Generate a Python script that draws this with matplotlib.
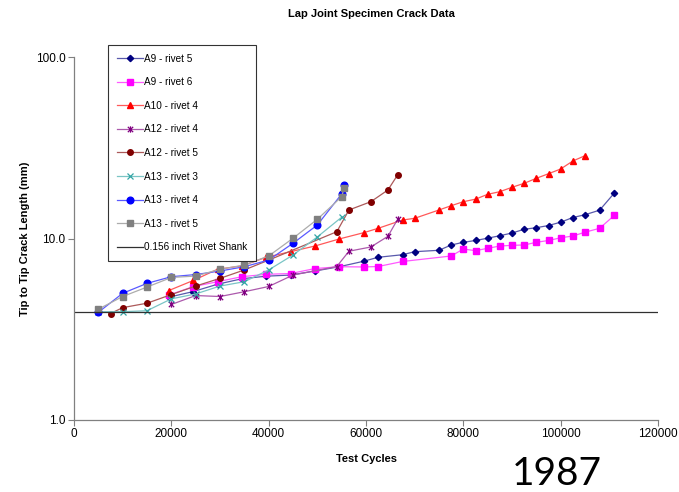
import matplotlib
matplotlib.use("Agg")
import matplotlib.pyplot as plt
from matplotlib.path import Path
from matplotlib.colors import to_rgb
from matplotlib.ticker import FixedLocator, FuncFormatter

plt.rcParams['font.family'] = ['Liberation Sans', 'DejaVu Sans']

# ---- data ----
a9r5_x = [19500, 24500, 29500, 34500, 39500, 44500, 49500, 54500, 59500, 62500, 67500, 70000,
          75000, 77500, 80000, 82500, 85000, 87500, 90000, 92500, 95000, 97500, 100000, 102500,
          105000, 108000, 111000]
a9r5_y = [4.75, 5.1, 5.6, 6.0, 6.2, 6.29, 6.62, 6.99, 7.49, 7.88, 8.14, 8.46,
          8.61, 9.21, 9.53, 9.75, 10.04, 10.36, 10.72, 11.24, 11.47, 11.79, 12.30, 13.05,
          13.52, 14.32, 17.77]

a9r6_x = [19500, 24500, 29500, 34500, 39500, 44500, 49500, 54500, 59500, 62500, 67500,
          77500, 80000, 82500, 85000, 87500, 90000, 92500, 95000, 97500, 100000, 102500,
          105000, 108000, 111000]
a9r6_y = [4.88, 5.43, 5.78, 6.16, 6.35, 6.41, 6.83, 6.99, 6.97, 7.01, 7.47,
          8.01, 8.75, 8.57, 8.83, 9.09, 9.17, 9.21, 9.53, 9.75, 10.09, 10.32,
          10.83, 11.38, 13.39]

a10r4_x = [19500, 24500, 29500, 34500, 39500, 44500, 49500, 54500, 59500, 62500, 67500, 70000,
           75000, 77500, 80000, 82500, 85000, 87500, 90000, 92500, 95000, 97500, 100000,
           102500, 105000]
a10r4_y = [5.17, 5.87, 6.77, 7.06, 7.88, 8.46, 9.09, 9.94, 10.76, 11.38, 12.64, 12.92,
           14.36, 15.16, 15.95, 16.47, 17.52, 18.11, 19.15, 20.14, 21.46, 22.75, 24.15,
           26.73, 28.59]

a12r4_x = [20000, 25000, 30000, 35000, 40000, 45000, 54000, 56500, 61000, 64500, 66500]
a12r4_y = [4.33, 4.85, 4.79, 5.09, 5.44, 6.29, 7.01, 8.51, 8.98, 10.28, 12.76]

a12r5_x = [7500, 10000, 15000, 20000, 25000, 30000, 35000, 40000, 54000, 56500, 61000, 64500, 66500]
a12r5_y = [3.86, 4.16, 4.40, 4.91, 5.47, 6.03, 6.71, 7.6, 10.9, 14.36, 15.95, 18.5, 22.4]

a13r3_x = [5000, 10000, 15000, 20000, 25000, 30000, 35000, 40000, 45000, 50000, 55000]
a13r3_y = [3.95, 3.95, 4.00, 4.65, 4.95, 5.47, 5.78, 6.71, 8.11, 10.2, 13.1]

a13r4_x = [5000, 10000, 15000, 20000, 25000, 30000, 35000, 40000, 45000, 50000, 55000, 55500]
a13r4_y = [3.92, 4.99, 5.66, 6.16, 6.33, 6.62, 6.99, 7.61, 9.41, 11.87, 17.59, 19.64]

a13r5_x = [5000, 10000, 15000, 20000, 25000, 30000, 35000, 40000, 45000, 50000, 55000, 55500]
a13r5_y = [4.08, 4.79, 5.40, 6.10, 6.21, 6.77, 7.14, 8.01, 10.03, 12.76, 16.99, 18.97]

shank_mm = 3.96  # 0.156 inch

labels = ["A9 - rivet 5", "A9 - rivet 6", "A10 - rivet 4", "A12 - rivet 4", "A12 - rivet 5",
          "A13 - rivet 3", "A13 - rivet 4", "A13 - rivet 5", "0.156 inch Rivet Shank"]
x_ticks = [0, 20000, 40000, 60000, 80000, 100000, 120000]
y_ticks = [1.0, 10.0, 100.0]

# Excel-like star marker (x with a vertical stroke)
star = Path([(-1, -1), (1, 1), (-1, 1), (1, -1), (0, -1.2), (0, 1.2)],
            [Path.MOVETO, Path.LINETO, Path.MOVETO, Path.LINETO, Path.MOVETO, Path.LINETO])


def lighten(c, f=0.35):
    r, g, b = to_rgb(c)
    return (r + (1 - r) * f, g + (1 - g) * f, b + (1 - b) * f)


fig = plt.figure(figsize=(6.79, 4.92), dpi=100)
ax = fig.add_axes([74/679, 1-420/492, 584/679, 363/492])

series = [
    (a9r5_x, a9r5_y, '#000080', 'D', 3.2, {}),
    (a9r6_x, a9r6_y, '#FF00FF', 's', 4.0, {}),
    (a10r4_x, a10r4_y, '#FF0000', '^', 4.8, {}),
    (a12r4_x, a12r4_y, '#800080', star, 4.6, {'markeredgewidth': 0.9}),
    (a12r5_x, a12r5_y, '#800000', 'o', 4.0, {}),
    (a13r3_x, a13r3_y, '#33A5A5', 'x', 5.0, {'markeredgewidth': 0.9}),
    (a13r4_x, a13r4_y, '#0000FF', 'o', 4.8, {}),
    (a13r5_x, a13r5_y, '#808080', 's', 4.0, {}),
]
handles = []
for (xs, ys, c, m, ms, kw), lab in zip(series, labels[:8]):
    h, = ax.plot(xs, ys, color=lighten(c), lw=0.9, marker=m, markersize=ms,
                 markerfacecolor=c, markeredgecolor=c, label=lab, **kw)
    handles.append(h)
hl = ax.axhline(shank_mm, color='#303030', lw=0.9, label=labels[8])
handles.append(hl)

ax.set_yscale('log')
ax.set_xlim(0, 120000)
ax.set_ylim(1, 100)
ax.yaxis.set_major_locator(FixedLocator(y_ticks))
ax.yaxis.set_minor_locator(FixedLocator([]))
ax.yaxis.set_major_formatter(FuncFormatter(lambda v, p: f"{v:.1f}"))
ax.xaxis.set_major_locator(FixedLocator(x_ticks))
ax.xaxis.set_major_formatter(FuncFormatter(lambda v, p: f"{int(v)}"))

for s in ['top', 'right']:
    ax.spines[s].set_visible(False)
for s in ['left', 'bottom']:
    ax.spines[s].set_color('#808080')
    ax.spines[s].set_linewidth(0.9)
ax.tick_params(axis='both', which='major', length=4, color='#808080', labelsize=8.5, pad=2)

ax.set_xlabel("Test Cycles", fontsize=8, fontweight='bold', labelpad=10)
ax.set_ylabel("Tip to Tip Crack Length (mm)", fontsize=8, fontweight='bold', labelpad=4)
fig.text(371/679, 1-14/492, "Lap Joint Specimen Crack Data", fontsize=8, fontweight='bold',
         ha='center', va='center')

leg = ax.legend(handles=handles, loc='upper left', bbox_to_anchor=(34/584, (420-45)/363),
                fontsize=7.2, frameon=True, fancybox=False, labelspacing=1.36,
                handlelength=2.6, handletextpad=0.2, borderpad=0.85, borderaxespad=0)
leg.get_frame().set_edgecolor('#000000')
leg.get_frame().set_linewidth(0.8)

fig.text(557/679, 1-474/492, "1987", fontsize=28, family=['Lato', 'DejaVu Sans'],
         ha='center', va='center')

fig.savefig("out.png", dpi=100)
